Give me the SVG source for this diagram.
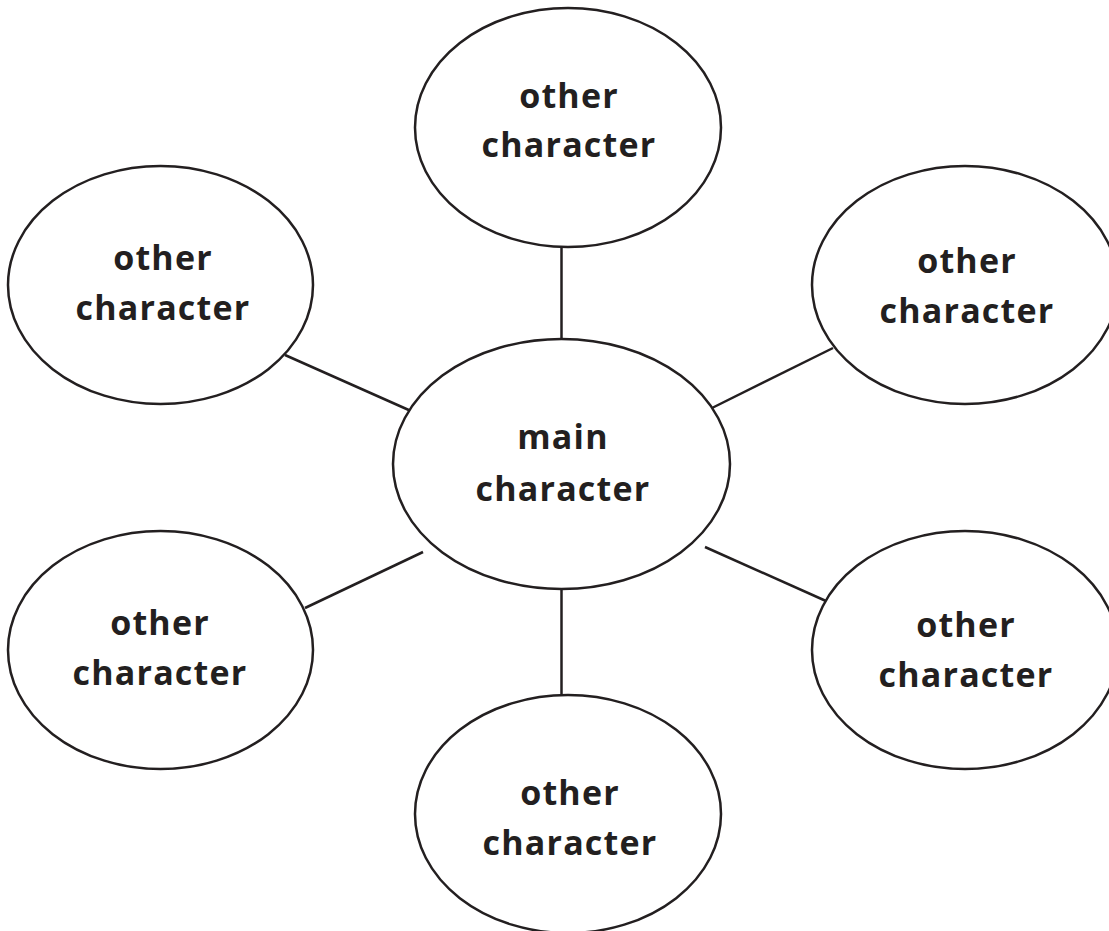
<svg xmlns="http://www.w3.org/2000/svg" width="1109" height="931" viewBox="0 0 1109 931">
  <style>
    .bubble { fill: #ffffff; stroke: #231f20; stroke-width: 2.5; }
    .link { stroke: #231f20; stroke-width: 2.5; fill: none; }
    .label { font-family: "Open Sans", "Noto Sans", sans-serif; font-weight: 700; font-size: 34px; letter-spacing: 1.2px; fill: #231f20; text-anchor: middle; }
  </style>
  <rect width="1109" height="931" fill="#ffffff"/>

  <!-- spokes from the centre bubble -->
  <g id="connectors">
    <line class="link" x1="561.5" y1="247" x2="561.5" y2="339"/>
    <line class="link" x1="285" y1="355" x2="411" y2="411"/>
    <line class="link" x1="712" y1="408" x2="833" y2="348"/>
    <line class="link" x1="305" y1="608" x2="423" y2="552"/>
    <line class="link" x1="705" y1="547" x2="826" y2="601"/>
    <line class="link" x1="561.5" y1="589" x2="561.5" y2="695"/>
  </g>

  <g id="main">
    <ellipse class="bubble" cx="561.5" cy="464" rx="168.5" ry="125"/>
    <text class="label" x="563" y="449">main</text>
    <text class="label" x="563" y="501">character</text>
  </g>

  <g id="other-top">
    <ellipse class="bubble" cx="568" cy="127.5" rx="153" ry="119.5"/>
    <text class="label" x="569" y="108">other</text>
    <text class="label" x="569" y="157">character</text>
  </g>

  <g id="other-upper-left">
    <ellipse class="bubble" cx="160.5" cy="285" rx="152.5" ry="119"/>
    <text class="label" x="163" y="270">other</text>
    <text class="label" x="163" y="320">character</text>
  </g>

  <g id="other-upper-right">
    <ellipse class="bubble" cx="965" cy="285" rx="153" ry="119"/>
    <text class="label" x="967" y="273">other</text>
    <text class="label" x="967" y="323">character</text>
  </g>

  <g id="other-lower-left">
    <ellipse class="bubble" cx="160.5" cy="650" rx="152.5" ry="119"/>
    <text class="label" x="160" y="635">other</text>
    <text class="label" x="160" y="685">character</text>
  </g>

  <g id="other-lower-right">
    <ellipse class="bubble" cx="965" cy="650" rx="153" ry="119"/>
    <text class="label" x="966" y="637">other</text>
    <text class="label" x="966" y="687">character</text>
  </g>

  <g id="other-bottom">
    <ellipse class="bubble" cx="568" cy="814" rx="153" ry="119"/>
    <text class="label" x="570" y="805">other</text>
    <text class="label" x="570" y="855">character</text>
  </g>
</svg>
